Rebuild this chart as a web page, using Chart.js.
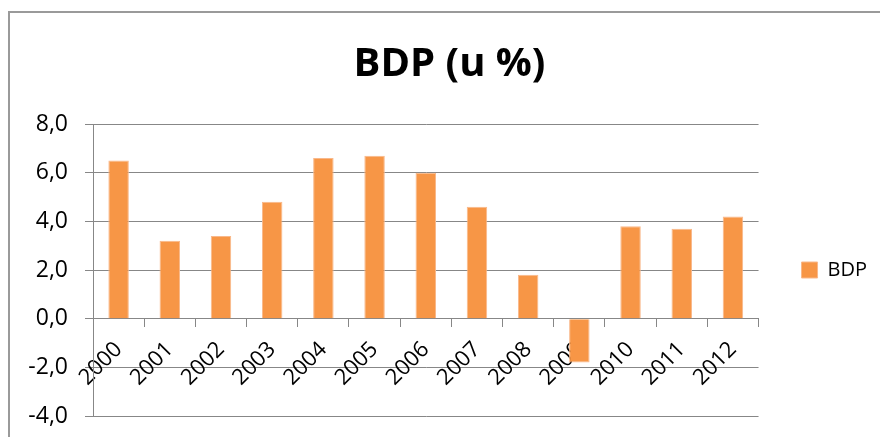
<!DOCTYPE html>
<html lang="hr">
<head>
    <meta charset="UTF-8">
    <title>BDP (u %)</title>
    <script src="https://cdn.jsdelivr.net/npm/chart.js"></script>
    <style>
        body {
            margin: 0;
            background: #ffffff;
            overflow: hidden;
        }

        .frame {
            position: absolute;
            left: 8px;
            top: 11px;
            width: 1000px;
            height: 1000px;
            border-left: 2px solid #9a9a9a;
            border-top: 2px solid #9a9a9a;
        }

        .chart-container {
            position: absolute;
            left: 0;
            top: 0;
            width: 880px;
            height: 437px;
        }
    </style>
</head>
<body>
    <div class="frame"></div>
    <div class="chart-container">
        <canvas id="bdpChart"></canvas>
    </div>

    <script>
        // chart data
        const years = ['2000', '2001', '2002', '2003', '2004', '2005', '2006',
                       '2007', '2008', '2009', '2010', '2011', '2012'];
        const bdpValues = [6.5, 3.2, 3.4, 4.8, 6.6, 6.7, 6.0, 4.6, 1.8, -1.8, 3.8, 3.7, 4.2];
        const yTicks = [-4, -2, 0, 2, 4, 6, 8];

        const axisGrey = '#878787';
        const fontFamily = "'Open Sans', sans-serif";

        const ctx = document.getElementById('bdpChart').getContext('2d');
        new Chart(ctx, {
            type: 'bar',
            data: {
                labels: years,
                datasets: [{
                    label: 'BDP',
                    data: bdpValues,
                    backgroundColor: '#F79646',
                    borderColor: '#F9B88A',
                    borderWidth: 1,
                    barPercentage: 0.4,
                    categoryPercentage: 1.0
                }]
            },
            options: {
                responsive: true,
                maintainAspectRatio: false,
                animation: false,
                layout: {
                    padding: { left: 22, right: 3, top: 0, bottom: 21 }
                },
                scales: {
                    x: {
                        position: { y: 0 },
                        offset: true,
                        // axis sits at zero inside the plot, so it should not eat layout space
                        afterFit: (scale) => {
                            scale.height = 0;
                            scale.paddingTop = 0;
                            scale.paddingBottom = 0;
                        },
                        grid: {
                            offset: true,
                            drawOnChartArea: false,
                            drawTicks: true,
                            tickLength: 8,
                            color: axisGrey
                        },
                        border: { display: true, color: axisGrey, width: 1 },
                        ticks: {
                            color: '#000',
                            font: { family: fontFamily, size: 22 },
                            minRotation: 45,
                            maxRotation: 45,
                            autoSkip: false,
                            padding: 10
                        }
                    },
                    y: {
                        min: yTicks[0],
                        max: yTicks[yTicks.length - 1],
                        afterFit: (scale) => {
                            scale.width = 71;
                            // tick padding is horizontal here, don't let it pad the bottom
                            scale.paddingBottom = 14;
                        },
                        afterBuildTicks: (scale) => {
                            scale.ticks = yTicks.map(v => ({ value: v }));
                        },
                        grid: {
                            color: axisGrey,
                            tickLength: 8,
                            drawTicks: true
                        },
                        border: { display: true, color: axisGrey, width: 1 },
                        ticks: {
                            color: '#000',
                            padding: 17,
                            font: { family: fontFamily, size: 23 },
                            callback: (v) => v.toFixed(1).replace('.', ',')
                        }
                    }
                },
                plugins: {
                    title: {
                        display: true,
                        text: 'BDP (u %)',
                        color: '#000',
                        font: { family: fontFamily, size: 40, weight: 'bold' },
                        padding: { top: 41, bottom: 35 }
                    },
                    legend: {
                        position: 'right',
                        fullSize: false,
                        labels: {
                            color: '#000',
                            boxWidth: 16,
                            boxHeight: 16,
                            padding: 43,
                            font: { family: fontFamily, size: 20 }
                        }
                    },
                    tooltip: { enabled: false }
                }
            }
        });
    </script>
</body>
</html>
